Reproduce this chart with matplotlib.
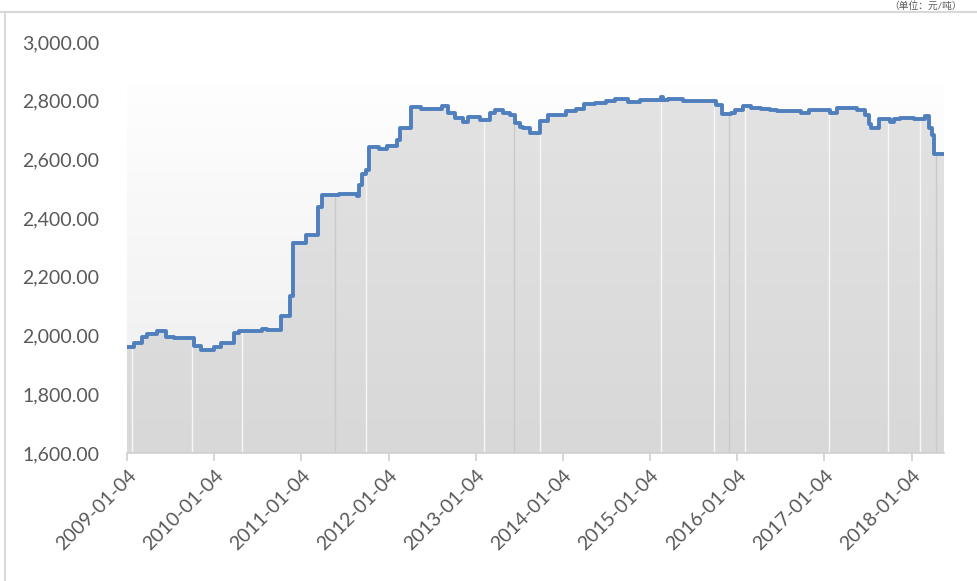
import numpy as np
import pandas as pd
import matplotlib
matplotlib.use("Agg")
import matplotlib.pyplot as plt
import matplotlib.dates as mdates
from matplotlib.colors import LinearSegmentedColormap
from matplotlib.ticker import FuncFormatter

plt.rcParams['font.family'] = ['Lato', 'Noto Sans CJK SC', 'DejaVu Sans']

# step-change dates and price levels
dates = ["2009-01-04", "2009-02-02", "2009-03-08", "2009-03-29", "2009-05-09",
         "2009-06-16", "2009-07-19", "2009-10-11", "2009-11-09", "2010-01-03",
         "2010-02-01", "2010-03-27", "2010-04-17", "2010-07-22", "2010-08-12",
         "2010-10-10", "2010-11-16", "2010-11-29", "2011-01-22", "2011-03-13",
         "2011-03-30", "2011-06-09", "2011-08-23", "2011-09-01", "2011-09-13",
         "2011-09-30", "2011-10-13", "2011-11-23", "2011-12-27", "2012-02-07",
         "2012-02-19", "2012-04-09", "2012-05-17", "2012-08-13", "2012-09-11",
         "2012-10-10", "2012-11-13", "2012-12-04", "2013-01-06", "2013-01-23",
         "2013-03-06", "2013-03-26", "2013-04-29", "2013-05-28", "2013-06-18",
         "2013-07-09", "2013-07-21", "2013-08-20", "2013-10-01", "2013-11-03",
         "2014-01-17", "2014-02-28", "2014-04-02", "2014-05-18", "2014-07-03",
         "2014-08-10", "2014-10-03", "2014-11-23", "2015-02-18", "2015-02-26",
         "2015-03-20", "2015-05-21", "2015-10-06", "2015-10-31", "2015-12-08",
         "2015-12-25", "2016-01-27", "2016-03-01", "2016-04-11", "2016-05-19",
         "2016-06-21", "2016-09-26", "2016-11-02", "2017-01-29", "2017-02-27",
         "2017-05-22", "2017-06-24", "2017-07-11", "2017-07-19", "2017-08-22",
         "2017-10-07", "2017-10-23", "2017-11-18", "2018-01-15", "2018-03-02",
         "2018-03-19", "2018-03-31", "2018-04-09", "2018-05-20"]
values = [1960, 1974, 1994, 2004, 2016,
          1996, 1991, 1965, 1951, 1962,
          1974, 2010, 2016, 2021, 2019,
          2068, 2135, 2316, 2343, 2439,
          2479, 2482, 2476, 2513, 2550,
          2564, 2644, 2636, 2647, 2666,
          2708, 2780, 2772, 2782, 2757,
          2740, 2727, 2746, 2744, 2735,
          2757, 2769, 2759, 2752, 2723,
          2712, 2706, 2689, 2731, 2752,
          2766, 2771, 2789, 2793, 2800,
          2805, 2797, 2803, 2814, 2803,
          2806, 2800, 2786, 2754, 2757,
          2769, 2783, 2776, 2772, 2769,
          2765, 2759, 2769, 2757, 2774,
          2769, 2752, 2720, 2706, 2737,
          2729, 2737, 2740, 2737, 2748,
          2706, 2683, 2618, 2618]

# thin gaps visible in the filled area
gap_white = ["2009-01-25", "2009-10-03", "2010-04-30", "2011-09-30", "2013-02-08",
             "2013-10-01", "2015-02-18", "2015-09-28", "2016-02-05", "2017-01-21",
             "2017-09-28", "2018-02-09"]
gap_gray = ["2011-05-23", "2013-06-14", "2015-11-30", "2018-04-17"]

tick_dates = ["2009-01-04", "2010-01-04", "2011-01-04", "2012-01-04", "2013-01-04",
              "2014-01-04", "2015-01-04", "2016-01-04", "2017-01-04", "2018-01-04"]
y_ticks = [1600, 1800, 2000, 2200, 2400, 2600, 2800, 3000]

x = mdates.date2num(pd.to_datetime(dates))
y = np.array(values, dtype=float)

fig = plt.figure(figsize=(9.77, 5.81), dpi=100)
ax = fig.add_axes([0.1303, 0.2203, 0.9662 - 0.1303, 0.9277 - 0.2203])
ax.set_xlim(x[0], x[-1])
ax.set_ylim(1600, 3000)

# background gradient of the area
bg_cmap = LinearSegmentedColormap.from_list("bg", ["#ededed", "#fefefe"])
grad = np.linspace(0, 1, 256).reshape(-1, 1)
ax.imshow(grad, cmap=bg_cmap, origin="lower", aspect="auto",
          extent=[x[0], x[-1], 1600, 2855], zorder=0)

# filled area under the step line
poly = ax.fill_between(x, 1600, y, step="post", color="none", lw=0)
fill_cmap = LinearSegmentedColormap.from_list("fill", ["#d8d8d8", "#e3e3e3"])
im = ax.imshow(grad, cmap=fill_cmap, origin="lower", aspect="auto",
               extent=[x[0], x[-1], 1600, 2855], zorder=1)
im.set_clip_path(poly.get_paths()[0], transform=ax.transData)

def level_at(d):
    i = np.searchsorted(x, d, side="right") - 1
    return y[max(i, 0)]

for d in mdates.date2num(pd.to_datetime(gap_white)):
    ax.vlines(d, 1600, level_at(d), color="#f7f7f7", lw=1.0, zorder=2)
for d in mdates.date2num(pd.to_datetime(gap_gray)):
    ax.vlines(d, 1600, level_at(d), color="#c9c9c9", lw=1.0, zorder=2)

ax.plot(x, y, drawstyle="steps-post", color="#4f7fbd", lw=2.8,
        solid_joinstyle="round", zorder=3)

for s in ["top", "right", "left"]:
    ax.spines[s].set_visible(False)
ax.spines["bottom"].set_color("#d0d0d0")
ax.spines["bottom"].set_linewidth(1.2)

ax.set_yticks(y_ticks)
ax.yaxis.set_major_formatter(FuncFormatter(lambda v, p: f"{v:,.2f}"))
ax.tick_params(axis="y", length=0, pad=20, labelsize=14, labelcolor="#595959")

ax.set_xticks(mdates.date2num(pd.to_datetime(tick_dates)))
ax.set_xticklabels(tick_dates)
ax.tick_params(axis="x", length=6, width=1.2, color="#d0d0d0", pad=4,
               labelsize=14, labelcolor="#595959")
for lab in ax.get_xticklabels():
    lab.set_rotation(45)
    lab.set_ha("right")
    lab.set_va("top")
    lab.set_rotation_mode("anchor")

# chart border (partly cropped in the original)
fig.add_artist(plt.Line2D([0, 1], [1 - 12 / 581, 1 - 12 / 581], color="#d9d9d9", lw=1.5))
fig.add_artist(plt.Line2D([5 / 977, 5 / 977], [0, 1 - 12 / 581], color="#d9d9d9", lw=1.5))
fig.text(0.985, 1 - 1 / 581, "（单位：元/吨）", ha="right", va="top",
         fontsize=7, color="#595959")

fig.savefig("out.png", dpi=100)
